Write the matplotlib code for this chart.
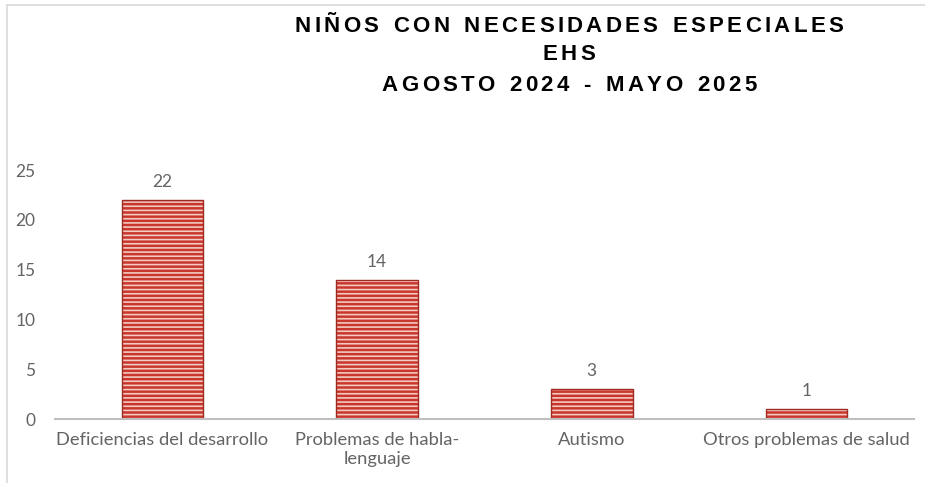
import matplotlib
matplotlib.use('Agg')
import matplotlib.pyplot as plt
from matplotlib.lines import Line2D

categorias = ['Deficiencias del desarrollo', 'Problemas de habla-\nlenguaje',
              'Autismo', 'Otros problemas de salud']
ninos = [22, 14, 3, 1]
yticks = [0, 5, 10, 15, 20, 25]
titulo = ['NIÑOS CON NECESIDADES ESPECIALES', 'EHS', 'AGOSTO 2024 - MAYO 2025']

gris = '#646464'
rojo = '#c9362b'
rosa = '#f3c9c2'

plt.rcParams['hatch.linewidth'] = 1.2
plt.rcParams['font.family'] = ['Lato', 'DejaVu Sans']

fig = plt.figure(figsize=(9.25, 4.83), dpi=100)
ax = fig.add_axes([0.0595, 0.1325, 0.9285, 0.5155])

x = list(range(len(categorias)))
# stripes first, then a dark outline on top
ax.bar(x, ninos, width=0.38, color=rojo, edgecolor=rosa, hatch='----', linewidth=0)
ax.bar(x, ninos, width=0.38, color='none', edgecolor='#9e2a22', linewidth=1.0)

for xi, v in zip(x, ninos):
    ax.annotate(str(v), (xi, v), xytext=(0, 7), textcoords='offset points',
                ha='center', va='bottom', fontsize=12.5, color=gris)

ax.set_xlim(-0.5, len(categorias) - 0.5)
ax.set_ylim(0, 25)
ax.set_yticks(yticks)
ax.set_xticks(x)
ax.set_xticklabels(categorias, fontsize=13.2, color=gris, linespacing=1.3)
ax.tick_params(axis='y', labelsize=12.5, labelcolor=gris, length=0, pad=14)
ax.tick_params(axis='x', length=0, pad=9)
for s in ['top', 'right', 'left']:
    ax.spines[s].set_visible(False)
ax.spines['bottom'].set_color('#bfbfbf')
ax.spines['bottom'].set_linewidth(1.5)

# title with letter spacing, drawn char by char
renderer = fig.canvas.get_renderer()
W, H = 925, 483
cx = 569
base_y = [32, 60, 91]
track = 3.3
for line, by in zip(titulo, base_y):
    widths = []
    for ch in line:
        t = fig.text(0, 0, ch if ch != ' ' else 'n', fontsize=16, fontweight='bold',
                     family='Liberation Sans')
        w = t.get_window_extent(renderer).width
        t.remove()
        widths.append(w * (0.6 if ch == ' ' else 1.0))
    total = sum(widths) + track * (len(line) - 1)
    px = cx - total / 2
    for ch, w in zip(line, widths):
        if ch != ' ':
            fig.text(px / W, 1 - by / H, ch, fontsize=16, fontweight='bold',
                     family='Liberation Sans', color='black', va='baseline', ha='left')
        px += w + track

# chart area border (left and top edges visible)
fig.add_artist(Line2D([7 / W, 7 / W], [0, 1 - 5 / H], color='#d9d9d9', lw=1.2))
fig.add_artist(Line2D([7 / W, 1], [1 - 5 / H, 1 - 5 / H], color='#d9d9d9', lw=1.2))

fig.savefig('out.png', dpi=100)
